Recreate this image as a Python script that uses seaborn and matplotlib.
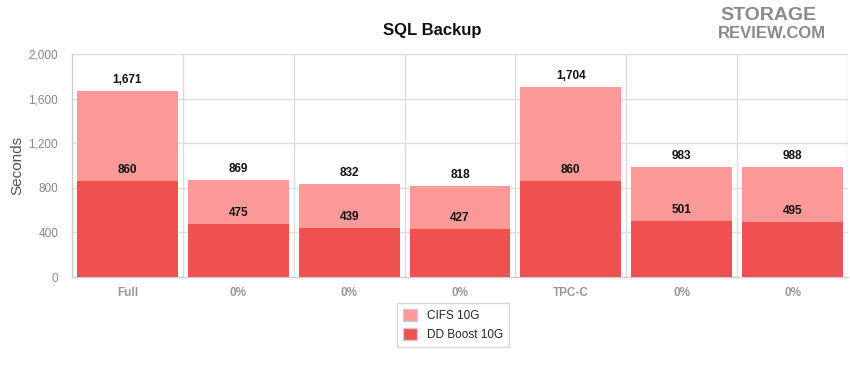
import matplotlib
matplotlib.use("Agg")
import matplotlib.pyplot as plt
import numpy as np
import pandas as pd
import seaborn as sns
from matplotlib.patches import Patch
from matplotlib.ticker import FuncFormatter

# values
tick_labels = ["Full", "0%", "0%", "0%", "TPC-C", "0%", "0%"]
cifs_10g = [1671, 869, 832, 818, 1704, 983, 988]
ddboost_10g = [860, 475, 439, 427, 860, 501, 495]
series_names = ["CIFS 10G", "DD Boost 10G"]

LIGHT = "#fe9999"
DARK = "#ef5050"
GRID = "#dddddd"

sns.set_theme(style="white")
plt.rcParams["font.family"] = ["Liberation Sans", "DejaVu Sans"]

slots = [str(i) for i in range(len(tick_labels))]
df = pd.DataFrame({"slot": slots, "cifs": cifs_10g, "dd": ddboost_10g})

fig = plt.figure(figsize=(8.5, 3.76), dpi=100)
ax = fig.add_axes([72 / 850, 1 - 277 / 376, (848 - 72) / 850, (277 - 54) / 376])

# bars overlap, DD Boost drawn in front of CIFS
sns.barplot(data=df, x="slot", y="cifs", order=slots, color=LIGHT,
            width=0.91, saturation=1, linewidth=0, ax=ax, zorder=2)
sns.barplot(data=df, x="slot", y="dd", order=slots, color=DARK,
            width=0.91, saturation=1, linewidth=0, ax=ax, zorder=3)

for i, (c, d) in enumerate(zip(cifs_10g, ddboost_10g)):
    ax.text(i, c + 45, f"{c:,}", ha="center", va="bottom", fontsize=8.5,
            fontweight="bold", color="#111111", zorder=5)
    ax.text(i, d + 45, f"{d:,}", ha="center", va="bottom", fontsize=8.5,
            fontweight="bold", color="#111111", zorder=5)

ax.set_ylim(0, 2000)
ax.set_xlim(-0.5, len(slots) - 0.5)
ax.set_yticks(np.arange(0, 2001, 400))
ax.yaxis.set_major_formatter(FuncFormatter(lambda v, _: f"{int(v):,}"))
ax.set_xticks(range(len(slots)))
ax.set_xticklabels(tick_labels)

for y in np.arange(400, 2001, 400):
    ax.axhline(y, color=GRID, lw=1, zorder=0)
for x in np.arange(0.5, len(slots) - 0.5 + 1e-9, 1.0):
    ax.axvline(x, color=GRID, lw=1, zorder=0)

for side in ("top", "right"):
    ax.spines[side].set_visible(False)
for side in ("left", "bottom"):
    ax.spines[side].set_color("#cccccc")
    ax.spines[side].set_linewidth(1)

ax.tick_params(axis="y", labelsize=8.5, colors="#888888", length=0, pad=10)
ax.tick_params(axis="x", labelsize=8.5, colors="#999999", length=0, pad=7)
for lbl in ax.get_xticklabels():
    lbl.set_fontweight("bold")

ax.set_xlabel("")
ax.set_ylabel("Seconds", fontsize=11, color="#555555", labelpad=3)

fig.text(432 / 850, 1 - 30 / 376, "SQL Backup", ha="center", va="center",
         fontsize=12, fontweight="bold", color="#111111")

# site logo as text
fig.text(768 / 850, 1 - 15 / 376, "STORAGE", ha="center", va="center",
         fontsize=14, fontweight="bold", color="#8a8a8a")
fig.text(772 / 850, 1 - 34 / 376, "REVIEW.COM", ha="center", va="center",
         fontsize=12, fontweight="bold", color="#8a8a8a")

handles = [Patch(facecolor=LIGHT, edgecolor="#cccccc"),
           Patch(facecolor=DARK, edgecolor="#cccccc")]
fig.legend(handles, series_names, loc="center", bbox_to_anchor=(453 / 850, 1 - 325 / 376),
           fontsize=8.5, frameon=True, fancybox=False, edgecolor="#cccccc",
           handlelength=1.2, handleheight=1.2, borderpad=0.5, labelspacing=0.5)

fig.savefig("out.png", dpi=100)
